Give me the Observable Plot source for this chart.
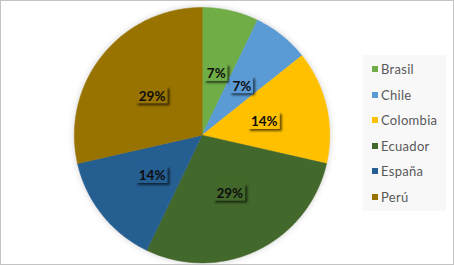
<!DOCTYPE html>
<html>
<head>
<meta charset="utf-8">
<script src="https://cdn.jsdelivr.net/npm/d3@7"></script>
<script src="https://cdn.jsdelivr.net/npm/@observablehq/plot@0.6"></script>
<style>
  html, body { margin: 0; padding: 0; background: #fff; }
  #frame { position: relative; width: 454px; height: 265px; box-sizing: border-box; border: 1px solid #c4c4c4; overflow: hidden; font-family: Lato, "Open Sans", sans-serif; }
  #chart { position: absolute; left: -1px; top: -1px; }
  #chart g[aria-label="line"] { filter: drop-shadow(0px 0px 3px rgba(0,0,0,0.18)); }
  #chart g[aria-label="rect"] rect { filter: drop-shadow(2px 2px 1.2px rgba(0,0,0,0.6)); }
  #legend { position: absolute; left: 362px; top: 54px; width: 83px; height: 156px; background: #f8f8f8; }
  .item { position: absolute; left: 9px; height: 16px; display: flex; align-items: center; font-size: 13px; letter-spacing: 0.3px; color: #595959; white-space: nowrap; }
  .sw { width: 6px; height: 6px; margin-right: 3px; }
</style>
</head>
<body>
<div id="frame">
  <div id="chart"></div>
  <div id="legend"></div>
</div>
<script>
const countries = ["Brasil", "Chile", "Colombia", "Ecuador", "España", "Perú"];
const counts = [1, 1, 2, 4, 2, 4];
const colors = ["#70AD47", "#5B9BD5", "#FFC000", "#43682B", "#255E91", "#997300"];

const total = d3.sum(counts);
const arcs = d3.pie().sort(null).value(d => d)(counts);

// slice polygons in unit-circle coordinates (angle 0 at top, clockwise)
const slicePts = [];
arcs.forEach((a, i) => {
  const name = countries[i];
  slicePts.push({name, x: 0, y: 0});
  const n = Math.max(2, Math.ceil((a.endAngle - a.startAngle) / (Math.PI / 180)));
  for (let k = 0; k <= n; k++) {
    const t = a.startAngle + (a.endAngle - a.startAngle) * k / n;
    slicePts.push({name, x: Math.sin(t), y: -Math.cos(t)});
  }
});

const fmt = d3.format(".0%");
const R = 128; // pixel radius (used for label box sizing)
const labels = arcs.map((a, i) => {
  const m = (a.startAngle + a.endAngle) / 2;
  const text = fmt(counts[i] / total);
  const hw = (text.length * 8.5 + 6.5) / 2 / R;
  const hh = 8.5 / R;
  const x = 0.5 * Math.sin(m), y = -0.5 * Math.cos(m);
  return {name: countries[i], text, x, y, x1: x - hw, x2: x + hw, y1: y - hh, y2: y + hh};
});

const plot = Plot.plot({
  width: 454,
  height: 265,
  margin: 0,
  x: {domain: [-1, 1], range: [202 - R, 202 + R], axis: null},
  y: {domain: [-1, 1], range: [135 - R, 135 + R], axis: null},
  color: {domain: countries, range: colors},
  style: {fontFamily: "Lato, 'Open Sans', sans-serif", background: "transparent"},
  marks: [
    Plot.line(slicePts, {x: "x", y: "y", z: "name", fill: "name", stroke: "name", strokeWidth: 0.5, curve: "linear-closed"}),
    Plot.rect(labels, {x1: "x1", x2: "x2", y1: "y1", y2: "y2", fill: "name"}),
    Plot.text(labels, {x: "x", y: "y", dy: 1, text: "text", fill: "#0d0d0d", fontSize: 13.5, fontWeight: "bold"})
  ]
});
document.getElementById("chart").appendChild(plot);

const legend = document.getElementById("legend");
countries.forEach((c, i) => {
  const it = document.createElement("div");
  it.className = "item";
  it.style.top = (6 + i * 25.6) + "px";
  it.innerHTML = `<span class="sw" style="background:${colors[i]}"></span><span>${c}</span>`;
  legend.appendChild(it);
});
</script>
</body>
</html>
